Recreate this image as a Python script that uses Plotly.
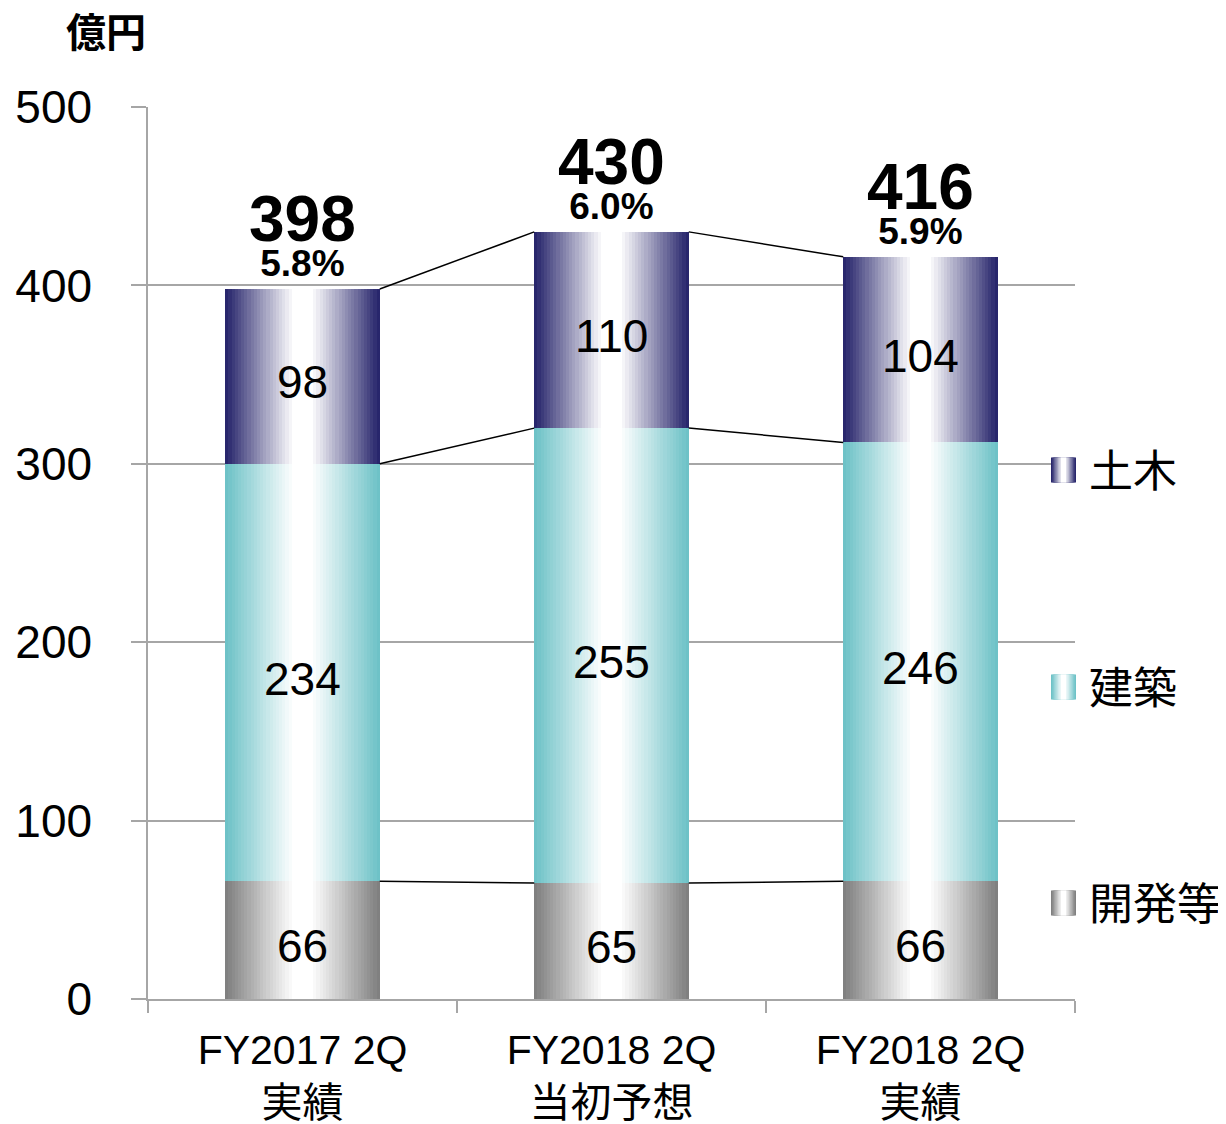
import plotly.graph_objects as go

# ---------------- data ----------------
categories = ["FY2017 2Q<br>実績", "FY2018 2Q<br>当初予想", "FY2018 2Q<br>実績"]
series_names = ["開発等", "建築", "土木"]
kaihatsu = [66, 65, 66]
kenchiku = [234, 255, 246]
doboku = [98, 110, 104]
totals = [398, 430, 416]
margin_pct = ["5.8%", "6.0%", "5.9%"]
y_ticks = [0, 100, 200, 300, 400, 500]

# ---------------- style ----------------
FONT = "Liberation Sans, Arial, Noto Sans CJK JP, sans-serif"
CJK = "Noto Sans CJK JP, Liberation Sans, sans-serif"
dark_colors = {"開発等": (128, 128, 128), "建築": (110, 194, 199), "土木": (40, 38, 108)}
GRID = "#A6A6A6"
BAR_W = 0.5
N_LAYERS = 22
OFF = 8  # page body margin

def lerp(c, t):
    r, g, b = (int(round(ci + (255 - ci) * t)) for ci in c)
    return f"rgb({r},{g},{b})"

xs = list(range(len(categories)))
series_vals = [kaihatsu, kenchiku, doboku]

fig = go.Figure()
annotations = []

bases = [0] * len(xs)
tops_by_series = []
for name, vals in zip(series_names, series_vals):
    base = list(bases)
    for k in range(N_LAYERS):
        t = k / (N_LAYERS - 1)
        w = BAR_W * (1 - 0.86 * t)
        fig.add_trace(go.Bar(
            x=xs, y=vals, base=base, width=w,
            marker=dict(color=lerp(dark_colors[name], t), line=dict(width=0)),
            showlegend=False, hoverinfo="skip"))
    for i, (b, v) in enumerate(zip(base, vals)):
        annotations.append(dict(
            x=xs[i], y=b + v / 2, text=str(v), showarrow=False,
            yanchor="middle", yshift=-6,
            font=dict(size=46, color="black", family=FONT)))
    bases = [b + v for b, v in zip(base, vals)]
    tops_by_series.append(list(bases))

# connector lines between bars
for tops in tops_by_series:
    lx, ly = [], []
    for i in range(len(xs) - 1):
        lx += [xs[i] + BAR_W / 2, xs[i + 1] - BAR_W / 2, None]
        ly += [tops[i], tops[i + 1], None]
    fig.add_trace(go.Scatter(x=lx, y=ly, mode="lines",
                             line=dict(color="black", width=1.5),
                             showlegend=False, hoverinfo="skip"))

for i, (tot, pct) in enumerate(zip(totals, margin_pct)):
    annotations.append(dict(
        x=xs[i], y=tot, showarrow=False, yanchor="bottom", yshift=3,
        text=(f"<b><span style='font-size:64px'>{tot}</span><br>"
              f"<span style='font-size:37px'>{pct}</span></b>"),
        font=dict(size=27, color="black", family=FONT)))

# plot-area pixel helpers (screen coordinates)
PLOT_L, PLOT_R, PLOT_T, PLOT_B = 148, 1075, 107, 999
def px_x(p):
    return (p - PLOT_L) / (PLOT_R - PLOT_L)
def px_y(p):
    return (PLOT_B - p) / (PLOT_B - PLOT_T)

# unit label
annotations.append(dict(xref="paper", yref="paper", x=px_x(64), y=px_y(30),
                        xanchor="left", yanchor="middle", showarrow=False,
                        text="<b>億円</b>", font=dict(size=40, color="black", family=CJK)))

# custom legend (gradient swatches)
legend_y_px = {"土木": 470, "建築": 687, "開発等": 903}
shapes = []
for name in series_names:
    cy = legend_y_px[name]
    x0, x1 = 1051, 1076
    n = 8
    for k in range(n):
        t = k / (n - 1)
        half = (x1 - x0) / 2 * (1 - 0.8 * t)
        cx = (x0 + x1) / 2
        shapes.append(dict(type="rect", xref="paper", yref="paper",
                           x0=px_x(cx - half), x1=px_x(cx + half),
                           y0=px_y(cy + 12.5), y1=px_y(cy - 12.5),
                           fillcolor=lerp(dark_colors[name], t), line=dict(width=0),
                           layer="above"))
    annotations.append(dict(xref="paper", yref="paper", x=px_x(1087), y=px_y(cy - 2),
                            xanchor="left", yanchor="middle", showarrow=False,
                            text=name, font=dict(size=44, color="black", family=CJK)))

W, H = 1226, 1124
fig.update_layout(
    width=W, height=H,
    margin=dict(l=PLOT_L - OFF, r=W + OFF - PLOT_R, t=PLOT_T - OFF, b=H + OFF - PLOT_B,
                autoexpand=False),
    paper_bgcolor="white", plot_bgcolor="white",
    barmode="overlay", bargap=0,
    showlegend=False,
    annotations=annotations, shapes=shapes,
    font=dict(family=FONT, color="black"),
)
fig.update_xaxes(
    range=[-0.5, 2.5], tickvals=xs, ticktext=categories,
    ticks="", showgrid=False, zeroline=False,
    showline=True, linecolor=GRID, linewidth=1.5,
    tickfont=dict(size=41, color="black", family=FONT),
    ticklabelstandoff=14,
    minor=dict(tickvals=[-0.5, 0.5, 1.5, 2.5], ticks="outside", ticklen=12,
               tickcolor=GRID, tickwidth=1.5, showgrid=False),
)
fig.update_yaxes(
    range=[0, 500], tickvals=y_ticks,
    showgrid=True, gridcolor=GRID, gridwidth=1.5, zeroline=False,
    showline=True, linecolor=GRID, linewidth=1.5,
    ticks="outside", ticklen=15, tickcolor=GRID, tickwidth=1.5,
    tickfont=dict(size=46, color="black", family=FONT),
    ticklabelstandoff=30,
)

fig.write_html("out.html")
